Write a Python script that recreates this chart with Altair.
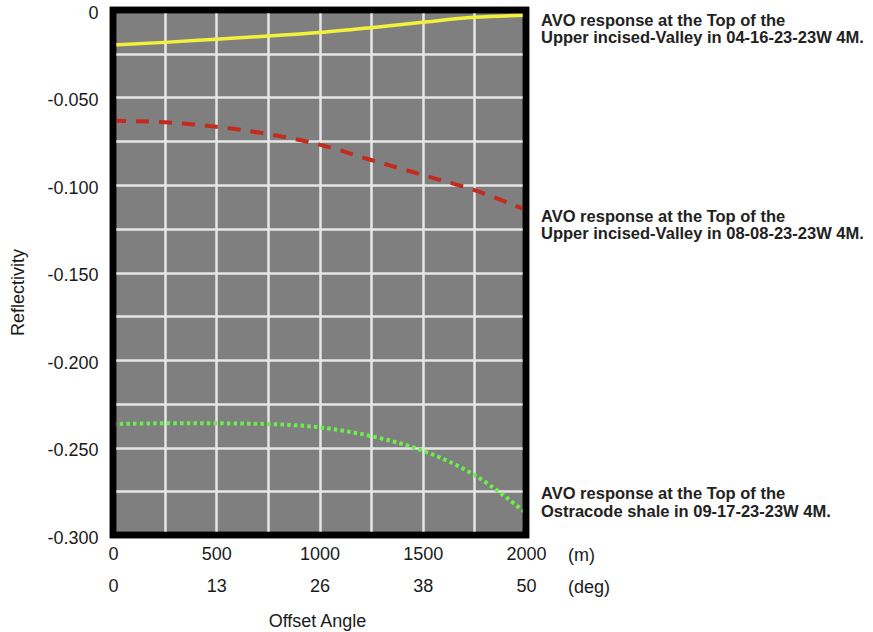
import json
import altair as alt
import pandas as pd

# ---- data ----
offset_m = [0, 250, 500, 750, 1000, 1250, 1500, 1750, 2000]
refl_04_16 = [-0.0200, -0.0185, -0.0167, -0.0149, -0.0129, -0.0101, -0.0070, -0.0042, -0.0030]
refl_08_08 = [-0.0633, -0.0642, -0.0667, -0.0709, -0.0769, -0.0857, -0.0943, -0.1029, -0.1143]
refl_09_17 = [-0.2366, -0.2362, -0.2362, -0.2366, -0.2385, -0.2435, -0.2518, -0.2657, -0.2875]

series_names = ["04-16-23-23W 4M", "08-08-23-23W 4M", "09-17-23-23W 4M"]

x_grid = [0, 250, 500, 750, 1000, 1250, 1500, 1750, 2000]
y_grid = [0, -0.025, -0.05, -0.075, -0.1, -0.125, -0.15, -0.175, -0.2, -0.225, -0.25, -0.275, -0.3]
m_tick_labels = ["0", "500", "1000", "1500", "2000"]
deg_tick_labels = ["0", "13", "26", "38", "50"]
y_tick_labels = ["0", "-0.050", "-0.100", "-0.150", "-0.200", "-0.250", "-0.300"]

note_04_16 = ["AVO response at the Top of the", "Upper incised-Valley in 04-16-23-23W 4M."]
note_08_08 = ["AVO response at the Top of the", "Upper incised-Valley in 08-08-23-23W 4M."]
note_09_17 = ["AVO response at the Top of the", "Ostracode shale in 09-17-23-23W 4M."]
unit_labels = ["(m)", "(deg)"]

rows = []
for name, vals in zip(series_names, [refl_04_16, refl_08_08, refl_09_17]):
    for o, v in zip(offset_m, vals):
        rows.append({"offset": o, "refl": v, "series": name})
df = pd.DataFrame(rows)

W, H = 413, 525
FONT = "Liberation Sans"

m_js = json.dumps(m_tick_labels)
deg_js = json.dumps(deg_tick_labels)
y_js = json.dumps(y_tick_labels)

x_enc = alt.X(
    "offset:Q",
    scale=alt.Scale(domain=[0, 2000], nice=False, zero=False),
    axis=alt.Axis(
        values=x_grid,
        labelExpr=f"datum.value % 500 == 0 ? [{m_js}[datum.value/500], {deg_js}[datum.value/500]] : ''",
        labelFont=FONT, labelFontSize=18, labelColor="#1a1a1a",
        labelLineHeight=32, labelPadding=10, labelOverlap=False, labelFlush=False,
        ticks=False, domain=False,
        grid=True, gridColor="#e6e6e6", gridWidth=2.5,
        title="Offset Angle", titleFont=FONT, titleFontSize=18, titleFontWeight="normal",
        titleColor="#1a1a1a", titleX=204, titleY=86, titleBaseline="middle", titleAlign="center",
    ),
)
y_enc = alt.Y(
    "refl:Q",
    scale=alt.Scale(domain=[-0.3, 0], nice=False, zero=False),
    axis=alt.Axis(
        values=y_grid,
        labelExpr=f"round(datum.value*1000) % 50 == 0 ? {y_js}[round(-datum.value*1000)/50] : ''",
        labelFont=FONT, labelFontSize=18, labelColor="#1a1a1a",
        labelPadding=15, labelOffset=3, labelOverlap=False, labelFlush=False,
        ticks=False, domain=False,
        grid=True, gridColor="#e6e6e6", gridWidth=2.5,
        title="Reflectivity", titleFont=FONT, titleFontSize=18, titleFontWeight="normal",
        titleColor="#1a1a1a", titleX=-95, titleY=282, titleBaseline="middle", titleAlign="center",
    ),
)

base = alt.Chart(df).encode(x=x_enc, y=y_enc)

yellow = base.transform_filter(alt.datum.series == series_names[0]).mark_line(
    color="#f2f23c", strokeWidth=3.5, interpolate="monotone")
red = base.transform_filter(alt.datum.series == series_names[1]).mark_line(
    color="#c42a1e", strokeWidth=4, strokeDash=[13, 10], interpolate="monotone")
green = base.transform_filter(alt.datum.series == series_names[2]).mark_line(
    color="#6af04a", strokeWidth=4, strokeDash=[3.5, 3.2], interpolate="monotone")

one = pd.DataFrame({"k": [0]})
frame = alt.Chart(one).mark_rect(
    fillOpacity=0, stroke="#000000", strokeWidth=6.5
).encode(x=alt.value(0), x2=alt.value(W), y=alt.value(0), y2=alt.value(H))


def note(lines, ypos):
    return alt.Chart(one).mark_text(
        align="left", baseline="alphabetic", font=FONT, fontSize=16.5, fontWeight="bold",
        color="#222222", lineHeight=17.5,
    ).encode(x=alt.value(428), y=alt.value(ypos), text=alt.value(lines))


unit_m = alt.Chart(one).mark_text(
    align="left", baseline="middle", font=FONT, fontSize=18, color="#1a1a1a"
).encode(x=alt.value(455), y=alt.value(546), text=alt.value(unit_labels[0]))
unit_deg = alt.Chart(one).mark_text(
    align="left", baseline="middle", font=FONT, fontSize=18, color="#1a1a1a"
).encode(x=alt.value(455), y=alt.value(578), text=alt.value(unit_labels[1]))

chart = alt.layer(
    yellow, red, green, frame,
    note(note_04_16, 15.7), note(note_08_08, 211.7), note(note_09_17, 489.3),
    unit_m, unit_deg,
).properties(
    width=W, height=H,
    autosize=alt.AutoSizeParams(type="none"),
    padding={"left": 113, "top": 10, "right": 347, "bottom": 97},
    background="#ffffff",
).configure_view(fill="#7f7f7f", stroke="#000000", strokeWidth=6.5)

chart.save("out.html", embed_options={"renderer": "svg", "actions": False})
